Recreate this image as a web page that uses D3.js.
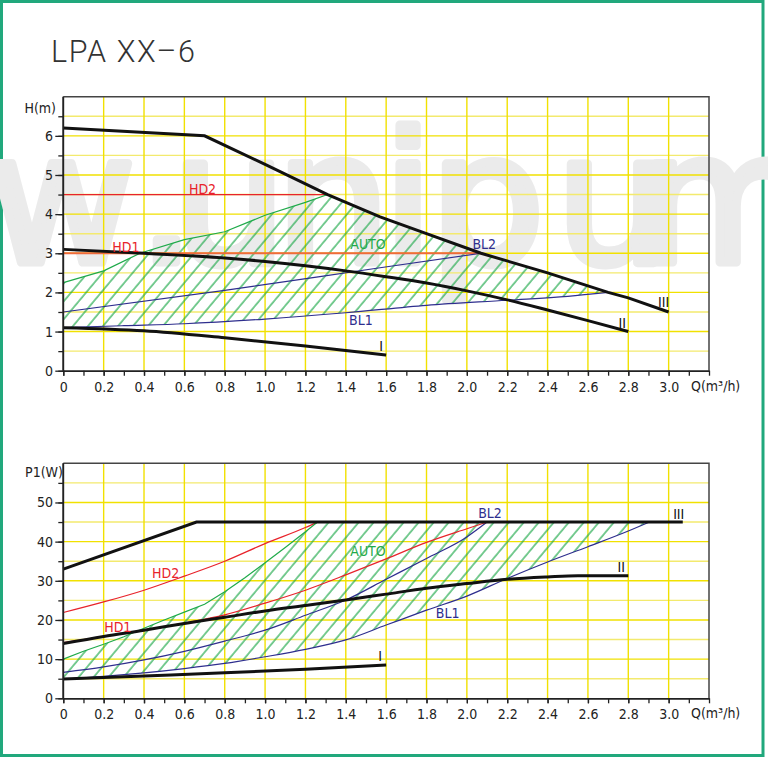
<!DOCTYPE html>
<html lang="en">
<head>
<meta charset="utf-8">
<title>LPA XX-6 pump curves</title>
<script src="https://cdn.jsdelivr.net/npm/d3@7"></script>
<style>
  body { margin: 0; background: #fff; }
  svg text { font-family: "DejaVu Sans Condensed", "DejaVu Sans", sans-serif; font-stretch: condensed; }
</style>
</head>
<body>
<script>
// ---- data ----
var qTickLabels = [0, 0.2, 0.4, 0.6, 0.8, 1.0, 1.2, 1.4, 1.6, 1.8, 2.0, 2.2, 2.4, 2.6, 2.8, 3.0];
var hTickLabels = [0, 1, 2, 3, 4, 5, 6];
var pTickLabels = [0, 10, 20, 30, 40, 50];

// H(m) against Q(m3/h)
var headIII = [[0, 6.2], [0.7, 6.0], [1.0, 5.27], [1.31, 4.5], [1.57, 3.93], [1.8, 3.5], [2.07, 3.0], [2.4, 2.5], [2.7, 2.0], [2.8, 1.86], [3.0, 1.5]];
var headII = [[0, 3.1], [0.4, 3.0], [0.8, 2.88], [1.0, 2.79], [1.2, 2.68], [1.4, 2.55], [1.6, 2.4], [1.8, 2.24], [2.0, 2.04], [2.2, 1.81], [2.4, 1.55], [2.6, 1.28], [2.8, 1.0]];
var headI = [[0, 1.1], [0.4, 1.02], [0.8, 0.84], [1.2, 0.63], [1.6, 0.4]];
var headHD2 = [[0, 4.5], [1.31, 4.5]];
var headHD1 = [[0, 3.0], [2.07, 3.0]];
var headBL2 = [[0, 1.5], [0.8, 2.05], [1.57, 2.63], [2.07, 3.0]];
var headBL1 = [[0, 1.1], [0.3, 1.15], [0.6, 1.2], [1.0, 1.32], [1.4, 1.48], [1.8, 1.67], [2.2, 1.8], [2.5, 1.9], [2.7, 2.0]];
var headAuto = [[0, 2.25], [0.2, 2.55], [0.38, 3.0], [0.6, 3.35], [0.8, 3.55], [1.0, 3.97], [1.2, 4.3], [1.31, 4.5]];

// P1(W) against Q(m3/h)
var powerIII = [[0, 33], [0.66, 45], [3.07, 45]];
var powerII = [[0, 14], [0.2, 15.8], [0.4, 17.4], [0.6, 19.1], [0.8, 20.7], [1.0, 22.3], [1.2, 23.7], [1.4, 25.1], [1.6, 26.6], [1.8, 28.1], [2.0, 29.3], [2.2, 30.4], [2.4, 31.0], [2.55, 31.3], [2.8, 31.3]];
var powerI = [[0, 4.9], [0.4, 5.7], [0.8, 6.5], [1.2, 7.4], [1.6, 8.5]];
var powerHD2 = [[0, 21.9], [0.2, 24.6], [0.4, 27.6], [0.6, 31.2], [0.8, 35.0], [1.0, 39.5], [1.2, 43.6], [1.26, 45]];
var powerHD1 = [[0, 14.2], [0.2, 15.8], [0.4, 17.4], [0.6, 19.2], [0.8, 21.3], [1.0, 24.3], [1.2, 27.6], [1.4, 31.5], [1.6, 35.6], [1.8, 39.8], [2.0, 43.3], [2.1, 45]];
var powerBL2 = [[0, 6.6], [0.2, 8.0], [0.4, 9.8], [0.6, 12.0], [0.8, 14.6], [1.0, 17.4], [1.2, 21.2], [1.4, 25.1], [1.6, 30.4], [1.8, 35.7], [2.0, 41.2], [2.1, 45]];
var powerBL1 = [[0, 4.9], [0.2, 5.6], [0.4, 6.5], [0.6, 7.6], [0.8, 8.9], [1.0, 10.6], [1.2, 12.5], [1.4, 14.9], [1.6, 18.7], [1.8, 22.5], [2.0, 26.1], [2.2, 30.6], [2.4, 34.8], [2.6, 38.7], [2.8, 42.7], [2.905, 45]];
var powerAuto = [[0, 10], [0.1, 12], [0.2, 13.8], [0.3, 15.7], [0.4, 17.9], [0.5, 20], [0.6, 22], [0.7, 24], [0.8, 27.2], [0.9, 30.8], [1.0, 34.6], [1.1, 38.5], [1.2, 42.5], [1.26, 45]];

// label anchors [text, q, value, colour key]
var headLabels = [["HD2", 0.69, 4.5, "red"], ["HD1", 0.31, 3.0, "red"], ["AUTO", 1.51, 3.09, "green"], ["BL2", 2.086, 3.09, "blue"],
                  ["BL1", 1.475, 1.15, "blue"], ["I", 1.575, 0.48, "black"], ["II", 2.77, 1.07, "black"], ["III", 2.975, 1.61, "black"]];
var powerLabels = [["HD2", 0.507, 30.4, "red"], ["HD1", 0.27, 16.7, "red"], ["AUTO", 1.51, 36.0, "green"], ["BL2", 2.115, 45.7, "blue"],
                   ["BL1", 1.905, 20.2, "blue"], ["I", 1.57, 9.35, "black"], ["II", 2.765, 31.9, "black"], ["III", 3.05, 45.6, "black"]];

var colours = { red: "#e8232b", green: "#1faa4a", blue: "#2e2e8e", black: "#111" };

var width = 768, height = 757;
var svg = d3.select("body").append("svg").attr("width", width).attr("height", height);

// hatch for the AUTO area
var defs = svg.append("defs");
defs.append("pattern")
    .attr("id", "hatch")
    .attr("patternUnits", "userSpaceOnUse")
    .attr("width", 11.5).attr("height", 20)
    .attr("patternTransform", "rotate(40)")
  .append("line")
    .attr("x1", 1).attr("x2", 1).attr("y1", 0).attr("y2", 20)
    .attr("stroke", colours.green).attr("stroke-width", 1.2);

// green frame
svg.append("rect").attr("x", 1.5).attr("y", 1.5).attr("width", 761.5).attr("height", 754)
    .attr("fill", "none").attr("stroke", "#21a87c").attr("stroke-width", 3);

// watermark
svg.append("text")
    .attr("x", "-12 138 172 276 383 430 556 640").attr("y", 262)
    .style("font-family", "'DejaVu Sans', sans-serif").style("font-stretch", "normal")
    .attr("font-size", 180).attr("fill", "#ebebeb")
    .attr("stroke", "#ebebeb").attr("stroke-width", 9).attr("stroke-linejoin", "round")
    .text("w.unipum");

// title
svg.append("text").attr("x", 51).attr("y", 62)
    .style("font-family", "Roboto, 'Liberation Sans', sans-serif").style("font-stretch", "normal")
    .attr("font-weight", 300).attr("font-size", 30.5).attr("letter-spacing", 1.6).attr("fill", "#333")
    .text("LPA XX\u20136");

var x = d3.scaleLinear().domain([0, 3.2]).range([63.3, 709]);

function panel(cfg) {
  var y = cfg.y;
  var g = svg.append("g");
  var y0 = y.range()[0], y1 = y.range()[1];

  // grid
  var yMinor = d3.range(cfg.step, cfg.max, cfg.step);
  g.selectAll(".hg").data(yMinor).enter().append("line")
      .attr("x1", x(0)).attr("x2", x(3.2))
      .attr("y1", function(d) { return y(d); }).attr("y2", function(d) { return y(d); })
      .attr("stroke", function(d) { return cfg.labels.indexOf(d) >= 0 ? "#f1e100" : "#f3ea6e"; })
      .attr("stroke-width", 1.4);
  g.selectAll(".vg").data(qTickLabels.slice(1)).enter().append("line")
      .attr("x1", function(d) { return x(d); }).attr("x2", function(d) { return x(d); })
      .attr("y1", y0).attr("y2", y1)
      .attr("stroke", "#f1e100").attr("stroke-width", 1.4);

  // plot frame (top & right)
  g.append("path")
      .attr("d", "M" + x(0) + "," + y1 + "H" + x(3.2) + "V" + y0)
      .attr("fill", "none").attr("stroke", "#444").attr("stroke-width", 1.5);

  var line = d3.line().x(function(d) { return x(d[0]); }).y(function(d) { return y(d[1]); });
  var smooth = d3.line().x(function(d) { return x(d[0]); }).y(function(d) { return y(d[1]); }).curve(d3.curveMonotoneX);

  // AUTO hatched area
  g.append("path").attr("d", line(cfg.hatch) + "Z").attr("fill", "url(#hatch)").attr("stroke", "none");

  cfg.thin.forEach(function(s) {
    g.append("path").attr("d", (s[3] ? line : smooth)(s[0])).attr("fill", "none")
        .attr("stroke", s[1]).attr("stroke-width", s[2] || 1.2);
  });
  cfg.thick.forEach(function(s) {
    g.append("path").attr("d", (s[1] ? line : smooth)(s[0])).attr("fill", "none")
        .attr("stroke", colours.black).attr("stroke-width", 3);
  });

  // axes
  var ax = g.append("g").attr("transform", "translate(0," + y0 + ")")
      .call(d3.axisBottom(x).tickValues(d3.range(0, 3.25, 0.1)).tickSize(5).tickSizeOuter(0).tickFormat(""));
  var axl = g.append("g").attr("transform", "translate(0," + y0 + ")")
      .call(d3.axisBottom(x).tickValues(qTickLabels).tickSize(5).tickPadding(6).tickSizeOuter(0)
        .tickFormat(function(d) { return d === 0 ? "0" : d.toFixed(1); }));
  var ay = g.append("g").attr("transform", "translate(" + x(0) + ",0)")
      .call(d3.axisLeft(y).tickValues(yMinor.concat([0])).tickSize(5).tickSizeOuter(0).tickFormat(""));
  var ayl = g.append("g").attr("transform", "translate(" + x(0) + ",0)")
      .call(d3.axisLeft(y).tickValues(cfg.labels).tickSize(8).tickPadding(2.3).tickSizeOuter(0).tickFormat(d3.format("d")));
  [ax, axl, ay, ayl].forEach(function(a) {
    a.selectAll("path.domain").attr("stroke", "#222").attr("stroke-width", 1.6);
    a.selectAll(".tick line").attr("stroke", "#222").attr("stroke-width", 1.3);
    a.selectAll("text").attr("fill", "#222").attr("font-size", 14).attr("font-family", null);
  });
  // y axis domain should reach the top frame
  ay.select("path.domain").attr("d", "M0," + y0 + "V" + y1);
  ayl.select("path.domain").attr("d", "M0," + y0 + "V" + y1);

  g.append("text").attr("x", 691).attr("y", y0 + 20).attr("font-size", 14).attr("fill", "#222").text("Q(m\u00b3/h)");
  g.append("text").attr("x", cfg.nameX).attr("y", cfg.nameY).attr("text-anchor", "end")
      .attr("font-size", 14).attr("fill", "#222").text(cfg.name);

  g.selectAll(".lab").data(cfg.curveLabels).enter().append("text")
      .attr("x", function(d) { return x(d[1]); })
      .attr("y", function(d) { return y(d[2]) - 1; })
      .attr("text-anchor", "middle").attr("font-size", 14)
      .attr("fill", function(d) { return colours[d[3]]; })
      .text(function(d) { return d[0]; });
}

var yHead = d3.scaleLinear().domain([0, 7]).range([370.7, 96.7]);
var yPower = d3.scaleLinear().domain([0, 60]).range([698.3, 463.3]);

// hatched outline: AUTO upper edge, curve III / 45 W limit, then BL1 back to Q = 0
var headHatch = headAuto
    .concat(headIII.filter(function(d) { return d[0] > 1.31 && d[0] <= 2.7; }))
    .concat(headBL1.slice().reverse());
var powerHatch = powerAuto
    .concat([[powerBL1[powerBL1.length - 1][0], 45]])
    .concat(powerBL1.slice().reverse());

panel({
  y: yHead, step: 0.5, max: 7, labels: hTickLabels, name: "H(m)", nameX: 56, nameY: 113,
  hatch: headHatch,
  thin: [[headHD2, colours.red, 1.2], [headHD1, "#ef6a3c", 2], [headBL2, colours.blue], [headBL1, colours.blue], [headAuto, colours.green, 1.2, true]],
  thick: [[headIII, true], [headII], [headI]],
  curveLabels: headLabels
});

panel({
  y: yPower, step: 5, max: 60, labels: pTickLabels, name: "P1(W)", nameX: 63, nameY: 477,
  hatch: powerHatch,
  thin: [[powerHD2, colours.red], [powerBL2, colours.blue], [powerBL1, colours.blue], [powerAuto, colours.green, 1.2, true], [powerHD1, colours.red]],
  thick: [[powerIII, true], [powerII], [powerI]],
  curveLabels: powerLabels
});
</script>
</body>
</html>
